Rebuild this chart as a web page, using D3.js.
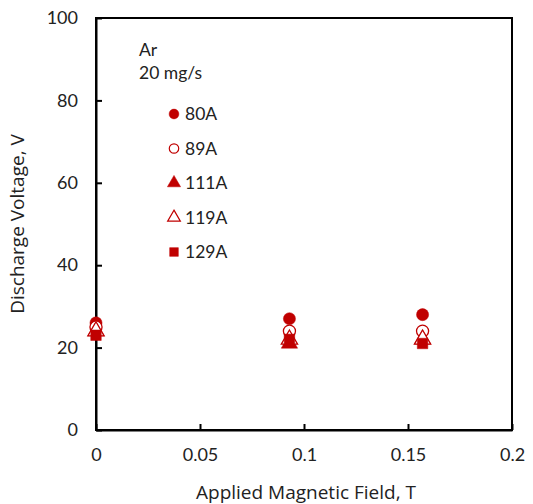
<!DOCTYPE html>
<html>
<head>
<meta charset="utf-8">
<script src="https://cdn.jsdelivr.net/npm/d3@7"></script>
<style>
  body { margin: 0; background: #fff; }
  text { font-family: Lato, "Open Sans", sans-serif; fill: #222; }
</style>
</head>
<body>
<div id="chart"></div>
<script>
// applied field (T) for each run
var field = [0, 0.093, 0.157];

// discharge voltage (V) per current
var v80  = [26, 27, 28];
var v89  = [25, 24, 24];
var v111 = [24, 21, 22];
var v119 = [24, 22, 22];
var v129 = [23, 22, 21];

var seriesNames = ["80A", "89A", "111A", "119A", "129A"];
var xTicks = [0, 0.05, 0.1, 0.15, 0.2];
var yTicks = [0, 20, 40, 60, 80, 100];

var series = [
  {name: seriesNames[0], values: v80,  shape: d3.symbolCircle,   fill: true},
  {name: seriesNames[1], values: v89,  shape: d3.symbolCircle,   fill: false},
  {name: seriesNames[2], values: v111, shape: d3.symbolTriangle, fill: true},
  {name: seriesNames[3], values: v119, shape: d3.symbolTriangle, fill: false},
  {name: seriesNames[4], values: v129, shape: d3.symbolSquare,   fill: true}
];

var red = "#c00000";
var margin = {top: 18, right: 21, bottom: 74, left: 96};
var width = 533 - margin.left - margin.right;
var height = 504 - margin.top - margin.bottom;

var svg = d3.select("#chart").append("svg")
    .attr("width", 533)
    .attr("height", 504)
  .append("g")
    .attr("transform", "translate(" + margin.left + "," + margin.top + ")");

var x = d3.scaleLinear().domain([0, 0.2]).range([0, width]);
var y = d3.scaleLinear().domain([0, 100]).range([height, 0]);

// frame
svg.append("rect")
  .attr("width", width)
  .attr("height", height)
  .attr("fill", "none")
  .attr("stroke", "#000")
  .attr("stroke-width", 2);

var xAxis = svg.append("g")
  .attr("transform", "translate(0," + height + ")")
  .call(d3.axisBottom(x).tickValues(xTicks).tickFormat(d3.format("")).tickSizeInner(-6).tickSizeOuter(0).tickPadding(18));
xAxis.select(".domain").attr("stroke-width", 2);
xAxis.selectAll(".tick line").attr("stroke-width", 2);
xAxis.selectAll("text").style("font-size", "18px").style("font-family", "Lato, sans-serif").attr("fill", "#222");

var yAxis = svg.append("g")
  .call(d3.axisLeft(y).tickValues(yTicks).tickSizeInner(-6).tickSizeOuter(0).tickPadding(18));
yAxis.select(".domain").attr("stroke-width", 2);
yAxis.selectAll(".tick line").attr("stroke-width", 2);
yAxis.selectAll("text").style("font-size", "18px").style("font-family", "Lato, sans-serif").attr("fill", "#222");

svg.append("text")
  .attr("x", width / 2 + 2)
  .attr("y", height + 69)
  .attr("text-anchor", "middle")
  .style("font-family", "'Open Sans', sans-serif")
  .style("font-size", "19px")
  .text("Applied Magnetic Field, T");

svg.append("text")
  .attr("transform", "translate(" + (-72) + "," + (height / 2) + ") rotate(-90)")
  .attr("text-anchor", "middle")
  .style("font-family", "'Open Sans', sans-serif")
  .style("font-size", "19px")
  .text("Discharge Voltage, V");

// points
series.forEach(function (s) {
  var sym = d3.symbol().type(s.shape).size(s.shape === d3.symbolSquare ? 110 : 115);
  svg.append("g").selectAll("path")
    .data(s.values)
    .enter().append("path")
    .attr("transform", function (d, i) { return "translate(" + x(field[i]) + "," + y(d) + ")"; })
    .attr("d", sym)
    .attr("fill", s.fill ? red : "#fff")
    .attr("stroke", red)
    .attr("stroke-width", s.fill ? 0.5 : 1.3);
});

// legend
var leg = svg.append("g").attr("transform", "translate(43,0)");
leg.append("text").attr("x", 0).attr("y", 38).style("font-size", "17.5px").text("Ar");
leg.append("text").attr("x", 0).attr("y", 61).style("font-size", "17.5px").text("20 mg/s");

series.forEach(function (s, i) {
  var g = leg.append("g").attr("transform", "translate(35," + (96 + i * 34.5) + ")");
  g.append("path")
    .attr("d", d3.symbol().type(s.shape).size(s.fill ? 75 : 70))
    .attr("fill", s.fill ? red : "#fff")
    .attr("stroke", red)
    .attr("stroke-width", s.fill ? 0.5 : 1.2);
  g.append("text").attr("x", 11).attr("y", 6).style("font-size", "17.5px").text(s.name);
});
</script>
</body>
</html>
